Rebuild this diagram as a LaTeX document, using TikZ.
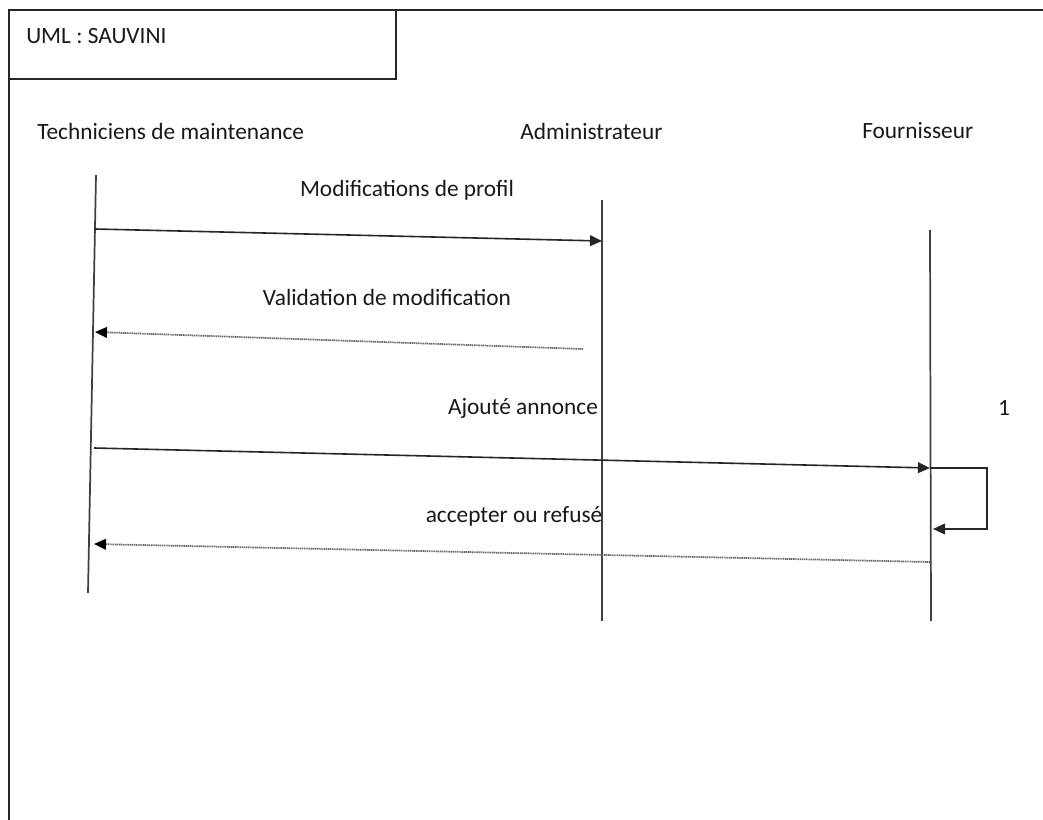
\documentclass[tikz,border=0pt]{standalone}
\usepackage{fontspec}
\setmainfont{Carlito}
\usetikzlibrary{arrows.meta}
\begin{document}
\begin{tikzpicture}[x=0.75pt,y=-0.75pt,
  frame/.style={line width=1.4pt,draw=black!85},
  lifeline/.style={line width=1.3pt,draw=black!75},
  lbl/.style={inner sep=0pt,font=\fontsize{17.5}{20}\selectfont,text=black!90},
  msg/.style={line width=1.2pt,draw=black!85,-{Triangle[length=9pt,width=8pt]}},
  reply/.style={line width=1.3pt,draw=black!60,dash pattern=on 0.9pt off 0.5pt,
    -{Triangle[length=9pt,width=8pt,color=black]}}]
\useasboundingbox (0,0) rectangle (1043,820);
\fill[white] (0,0) rectangle (1043,820);

% outer frame and title box
\draw[frame] (9,820) -- (9,10) -- (1043,10);
\draw[frame] (9,10) rectangle (396,79);
\node[lbl,anchor=west] (title) at (26,36) {UML : SAUVINI};

% participants
\node[lbl,anchor=west] (tech) at (37,131) {Techniciens de maintenance};
\node[lbl,anchor=west] (admin) at (520,131) {Administrateur};
\node[lbl,anchor=west] (four) at (862,131) {Fournisseur};

% lifelines
\coordinate (t0) at (96,175);  \coordinate (t1) at (88,593);
\coordinate (a0) at (602,200); \coordinate (a1) at (602,621);
\coordinate (f0) at (930,230); \coordinate (f1) at (931,621);
\draw[lifeline] (t0) -- (t1);
\draw[lifeline] (a0) -- (a1);
\draw[lifeline] (f0) -- (f1);

% message end points
\coordinate (m1s) at (95,229);  \coordinate (m1e) at (602,241);
\coordinate (m2s) at (583,349); \coordinate (m2e) at (95,332);
\coordinate (m3s) at (94,448);  \coordinate (m3e) at (930,468);
\coordinate (sl1) at (987,468); \coordinate (sl2) at (987,529);
\coordinate (sle) at (933,529);
\coordinate (m4s) at (930,562); \coordinate (m4e) at (94,544);

% messages
\node[lbl] (l1) at (407,190) {Modifications de profil};
\draw[msg] (m1s) -- (m1e);

\node[lbl] (l2) at (387,297) {Validation de modification};
\draw[reply] (m2s) -- (m2e);

\node[lbl] (l3) at (523,408) {Ajouté annonce};
\draw[msg] (m3s) -- (m3e);

\node[lbl] (n1) at (1004,408) {1};
\draw[msg] (m3e) -- (sl1) -- (sl2) -- (sle);

\node[lbl] (l4) at (514,516) {accepter ou refusé};
\draw[reply] (m4s) -- (m4e);
\end{tikzpicture}
\end{document}
